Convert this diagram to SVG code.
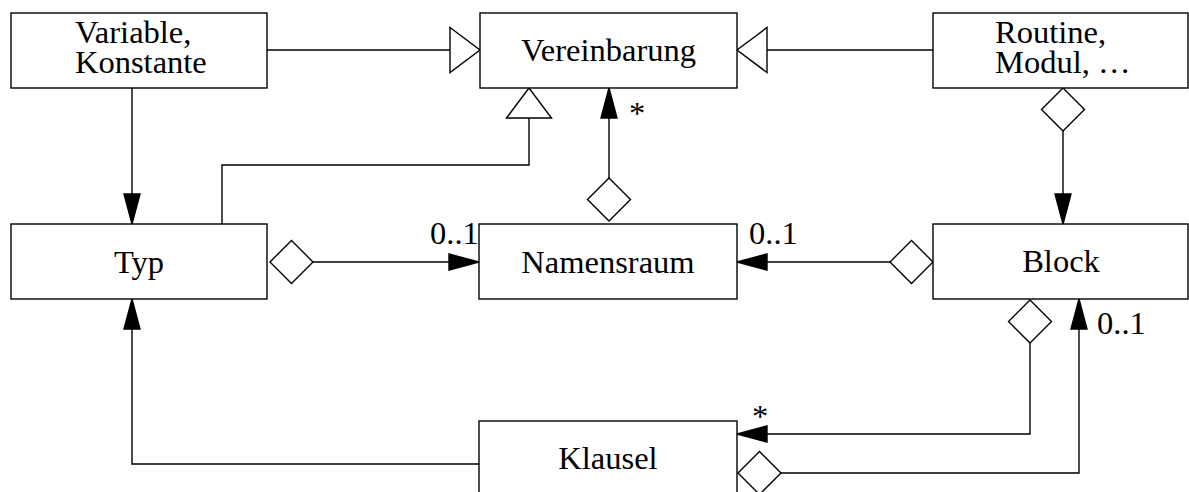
<svg xmlns="http://www.w3.org/2000/svg" width="1189" height="492" viewBox="0 0 1189 492">
  <style>
    .box { fill: #ffffff; stroke: #000000; stroke-width: 1.4; }
    text { font-family: 'Liberation Serif', 'Times New Roman', 'DejaVu Serif', serif; font-size: 32.5px; fill: #000000; }
    .mid { text-anchor: middle; }
    .conn { fill: none; stroke: #000000; stroke-width: 1.4; }
    .head { stroke: #000000; stroke-width: 1.4; stroke-linejoin: miter; }
  </style>
  <defs>
    <!-- navigable association: filled arrowhead -->
    <marker id="arrow" markerUnits="userSpaceOnUse" markerWidth="32" markerHeight="18" refX="30" refY="8" orient="auto" overflow="visible">
      <path class="head" d="M0,0 L30,8 L0,16 Z" fill="#000000"/>
    </marker>
    <!-- generalization: hollow triangle -->
    <marker id="inherit" markerUnits="userSpaceOnUse" markerWidth="32" markerHeight="47" refX="30" refY="22.5" orient="auto" overflow="visible">
      <path class="head" d="M0,0 L30,22.5 L0,45 Z" fill="#ffffff"/>
    </marker>
    <!-- aggregation: hollow diamond at the owning end -->
    <marker id="aggr" markerUnits="userSpaceOnUse" markerWidth="45" markerHeight="45" refX="0" refY="21.5" orient="auto" overflow="visible">
      <path class="head" d="M0,21.5 L21.5,0 L43,21.5 L21.5,43 Z" fill="#ffffff"/>
    </marker>
  </defs>

  <rect width="1189" height="492" fill="#ffffff"/>

  <g id="connectors">
    <path class="conn" d="M267,50 H480" marker-end="url(#inherit)"/>
    <path class="conn" d="M933,50 H737" marker-end="url(#inherit)"/>
    <path class="conn" d="M222,224 V165 H529 V88" marker-end="url(#inherit)"/>
    <path class="conn" d="M132,88 V224" marker-end="url(#arrow)"/>
    <path class="conn" d="M609,221 V88" marker-start="url(#aggr)" marker-end="url(#arrow)"/>
    <path class="conn" d="M270,262 H479" marker-start="url(#aggr)" marker-end="url(#arrow)"/>
    <path class="conn" d="M933,262 H737" marker-start="url(#aggr)" marker-end="url(#arrow)"/>
    <path class="conn" d="M1063,88 V224" marker-start="url(#aggr)" marker-end="url(#arrow)"/>
    <path class="conn" d="M1030,300 V434 H737" marker-start="url(#aggr)" marker-end="url(#arrow)"/>
    <path class="conn" d="M738,473 H1079 V299" marker-start="url(#aggr)" marker-end="url(#arrow)"/>
    <path class="conn" d="M479,464 H132 V299" marker-end="url(#arrow)"/>
    <!-- multiplicities -->
    <text x="629" y="124">*</text>
    <text x="430" y="244">0..1</text>
    <text x="749" y="244">0..1</text>
    <text x="1097" y="334">0..1</text>
    <text x="752" y="427">*</text>
  </g>

  <g id="variable">
    <rect class="box" x="11" y="13" width="256" height="75"/>
    <text x="75" y="43">Variable,<tspan x="75" dy="30">Konstante</tspan></text>
  </g>
  <g id="vereinbarung">
    <rect class="box" x="480" y="13" width="257" height="75"/>
    <text class="mid" x="608.5" y="61">Vereinbarung</text>
  </g>
  <g id="routine">
    <rect class="box" x="933" y="13" width="255" height="75"/>
    <text x="995" y="43">Routine,<tspan x="995" dy="30">Modul, …</tspan></text>
  </g>
  <g id="typ">
    <rect class="box" x="11" y="224" width="256" height="75"/>
    <text class="mid" x="139" y="273">Typ</text>
  </g>
  <g id="namensraum">
    <rect class="box" x="479" y="224" width="258" height="75"/>
    <text class="mid" x="608" y="273">Namensraum</text>
  </g>
  <g id="block">
    <rect class="box" x="933" y="224" width="255" height="75"/>
    <text class="mid" x="1061" y="272">Block</text>
  </g>
  <g id="klausel">
    <rect class="box" x="479" y="421" width="258" height="75"/>
    <text class="mid" x="608" y="469">Klausel</text>
  </g>
</svg>
